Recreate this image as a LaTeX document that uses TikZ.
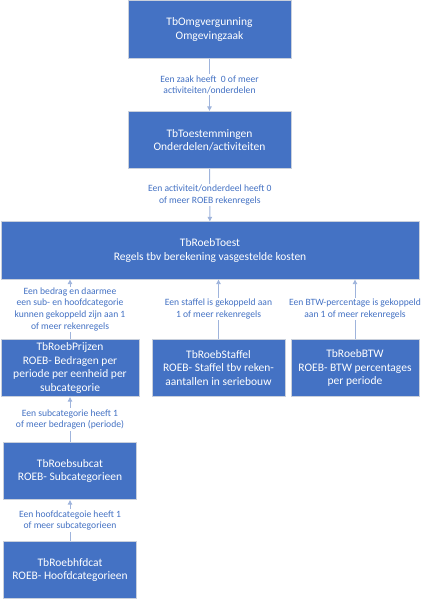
\documentclass[tikz,border=0pt]{standalone}
\usepackage{fontspec}
\setmainfont{Carlito}
\usetikzlibrary{arrows.meta}
\definecolor{boxblue}{HTML}{4472C4}
\definecolor{boxedge}{HTML}{C9D0DC}
\definecolor{linkcol}{HTML}{9FB4DC}
\definecolor{lblcol}{HTML}{4472C4}
\tikzset{
  ent/.style={draw=boxedge, line width=0.8pt, fill=boxblue, text=white, align=center,
    font=\fontsize{11.5}{13.4}\selectfont, inner sep=0pt, minimum height=57.5pt},
  lbl/.style={fill=white, text=lblcol, align=center, inner sep=1pt,
    font=\fontsize{9.6}{11.7}\selectfont},
  link/.style={draw=linkcol, line width=0.9pt, -{Triangle[length=4.5pt,width=4.5pt]}},
}
\begin{document}
\begin{tikzpicture}[x=1pt,y=-1pt]
\useasboundingbox (0,0) rectangle (429,600);
\node[ent, minimum width=163pt] (b1) at (209.5,29.5) {TbOmgvergunning\\Omgevingzaak};
\node[ent, minimum width=163pt] (b2) at (209.5,140) {TbToestemmingen\\Onderdelen/activiteiten};
\node[ent, minimum width=418pt] (b3) at (210,250.5) {TbRoebToest\\Regels tbv berekening vasgestelde kosten};
\node[ent, minimum width=138pt] (pr) at (70,368) {TbRoebPrijzen\\ROEB- Bedragen per\\periode per eenheid per\\subcategorie};
\node[ent, minimum width=133pt] (st) at (218.5,368) {TbRoebStaffel\\ROEB- Staffel tbv reken-\\aantallen in seriebouw};
\node[ent, minimum width=128pt] (bt) at (355,368) {TbRoebBTW\\ROEB- BTW percentages\\per periode};
\node[ent, minimum width=133.4pt] (sc) at (70,471) {TbRoebsubcat\\ROEB- Subcategorieen};
\node[ent, minimum width=133.4pt] (hc) at (70,570) {TbRoebhfdcat\\ROEB- Hoofdcategorieen};

\draw[link] (b1) -- node[lbl] {Een zaak heeft\ \ 0 of meer\\activiteiten/onderdelen} (b2);
\draw[link] (b2) -- node[lbl] {Een activiteit/onderdeel heeft 0\\of meer ROEB rekenregels} (b3);
\draw[link] (pr.north) -- node[lbl] {Een bedrag en daarmee\\een sub- en hoofdcategorie\\kunnen gekoppeld zijn aan 1\\of meer rekenregels} (pr.north |- b3.south);
\draw[link] (st.north) -- node[lbl] {Een staffel is gekoppeld aan\\1 of meer rekenregels} (st.north |- b3.south);
\draw[link] (bt.north) -- node[lbl] {Een BTW-percentage is gekoppeld\\aan 1 of meer rekenregels} (bt.north |- b3.south);
\draw[link] (sc) -- node[lbl] {Een subcategorie heeft 1\\of meer bedragen (periode)} (pr);
\draw[link] (hc) -- node[lbl] {Een hoofdcategoie heeft 1\\of meer subcategorieen} (sc);
\end{tikzpicture}
\end{document}
